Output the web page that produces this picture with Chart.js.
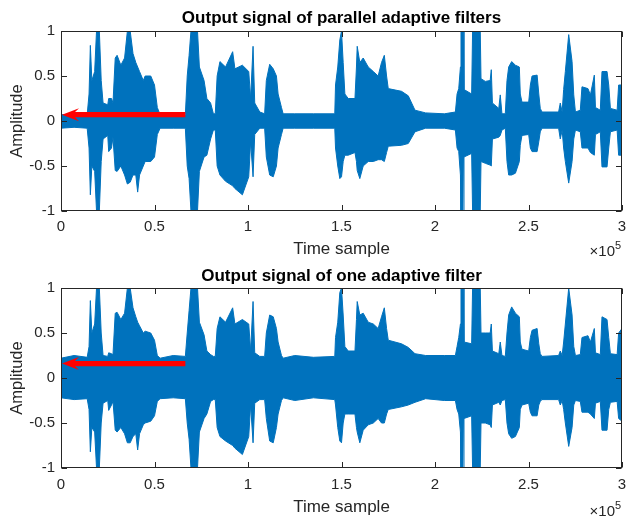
<!DOCTYPE html>
<html><head><meta charset="utf-8">
<script src="https://cdn.jsdelivr.net/npm/chart.js@4.4.1/dist/chart.umd.min.js"></script>
<style>
html,body{margin:0;padding:0;background:#fff;}
#wrap{position:relative;width:627px;height:517px;overflow:hidden;}
canvas{position:absolute;left:0;}
</style></head><body>
<div id="wrap">
<canvas id="c1" width="627" height="258" style="top:0px"></canvas>
<canvas id="c2" width="627" height="259" style="top:258px"></canvas>
</div>
<script>
// ---- data (envelope of the signal) ----
const timeSamples = [
0,7000,14000,15000,15700,16500,18000,19000,20500,21500,
22500,25000,25500,27000,27800,29000,30000,32000,34000,35500,
37000,38500,40000,41000,42000,44000,45000,48000,50000,51500,
53000,60000,66500,67500,68500,69500,73000,74000,76500,78000,
80000,81500,82500,83500,85000,88000,91800,93000,97000,100400,
101400,102700,103600,106300,108900,109800,111600,113500,115200,116100,
117900,118800,125000,135000,146400,146800,148000,149100,150000,150900,
151800,153600,157200,158000,158400,159800,161600,164300,167000,169600,
171400,172900,174100,175000,182100,185700,189300,195000,205000,210900,
211800,212700,213600,213900,215100,215500,219600,220100,224200,224600,
226900,229500,230100,230700,234100,234900,235800,237600,238500,239400,
241000,243000,245100,245600,246500,250100,251000,251900,254600,255500,
256300,257200,266100,267000,268000,268800,269700,271500,273300,274200,
275100,277700,278600,281800,283100,285200,285800,288400,289300,292000,
292900,293800,297400,298200,300000
];
const parallelUpper = [
.07,.07,.07,.3,.84,.45,.55,1,1,.45,
.2,.18,.25,.25,.2,.7,.73,.62,.7,1,
1,.75,.65,.6,.55,.45,.5,.5,.4,.15,
.07,.07,.07,.5,.73,1,1,.6,.45,.25,
.2,.08,.08,.5,.66,.6,.77,.58,.62,.55,
.25,.83,.2,.1,.08,.45,.63,.58,.5,.3,
.15,.08,.08,.08,.08,.4,.6,.9,1,.65,
.3,.25,.25,.6,.83,.65,.7,.6,.55,.5,
.65,.73,.5,.36,.33,.28,.12,.09,.08,.1,
.3,.36,.6,1,1,.35,.3,1,1,.47,
.44,.45,.57,.2,.14,.29,.08,.08,.45,.6,
.66,.62,.6,.3,.21,.21,.4,.5,.51,.3,
.14,.1,.1,.2,.1,.35,.55,.96,.66,.29,
.1,.12,.38,.36,.29,.51,.15,.12,.55,.55,
.4,.14,.12,.4,.4
];
const parallelLower = [
-.08,-.07,-.08,-.3,-.82,-.5,-.56,-1,-1,-.45,
-.2,-.16,-.34,-.3,-.18,-.55,-.56,-.5,-.6,-.7,
-.68,-.6,-.6,-.79,-.6,-.5,-.45,-.45,-.4,-.15,
-.08,-.08,-.08,-.5,-.64,-1,-1,-.56,-.4,-.38,
-.2,-.1,-.1,-.5,-.6,-.67,-.72,-.75,-.82,-.62,
-.23,-.62,-.15,-.08,-.08,-.4,-.6,-.62,-.5,-.3,
-.15,-.08,-.08,-.08,-.08,-.3,-.5,-.64,-.62,-.45,
-.38,-.38,-.35,-.45,-.55,-.64,-.5,-.45,-.45,-.43,
-.43,-.45,-.35,-.28,-.27,-.25,-.12,-.08,-.08,-.1,
-.3,-.34,-.6,-1,-1,-.4,-.36,-1,-1,-.45,
-.47,-.49,-.5,-.2,-.18,-.16,-.1,-.08,-.45,-.6,
-.6,-.58,-.45,-.27,-.16,-.15,-.3,-.34,-.34,-.23,
-.12,-.08,-.08,-.2,-.1,-.3,-.45,-.69,-.45,-.2,
-.1,-.12,-.3,-.3,-.35,-.38,-.15,-.12,-.51,-.51,
-.3,-.12,-.1,-.38,-.38
];
const singleUpper = [
.22,.25,.23,.35,.86,.5,.6,1,1,.5,
.25,.24,.28,.27,.26,.72,.73,.65,.72,1,
1,.78,.68,.62,.58,.5,.52,.5,.42,.25,
.22,.25,.24,.5,.75,1,1,.62,.48,.3,
.26,.24,.24,.55,.68,.62,.78,.6,.65,.6,
.3,.85,.28,.24,.24,.5,.7,.68,.55,.4,
.25,.22,.25,.23,.24,.45,.62,.95,1,.7,
.35,.3,.3,.65,.85,.7,.72,.62,.6,.55,
.68,.78,.55,.42,.38,.34,.27,.25,.25,.25,
.35,.45,.6,1,1,.4,.38,1,1,.5,
.5,.5,.6,.3,.27,.4,.25,.24,.5,.7,
.79,.72,.68,.4,.32,.3,.45,.53,.55,.38,
.27,.24,.25,.3,.25,.4,.6,1,.7,.35,
.25,.26,.45,.47,.4,.55,.28,.26,.68,.65,
.45,.27,.26,.5,.55
];
const singleLower = [
-.22,-.24,-.23,-.35,-.82,-.55,-.6,-1,-1,-.5,
-.28,-.25,-.36,-.3,-.26,-.58,-.6,-.55,-.62,-.72,
-.72,-.65,-.62,-.8,-.62,-.52,-.5,-.48,-.42,-.26,
-.23,-.22,-.23,-.5,-.68,-1,-1,-.6,-.45,-.4,
-.26,-.24,-.24,-.55,-.65,-.7,-.75,-.78,-.85,-.65,
-.3,-.72,-.28,-.24,-.24,-.45,-.7,-.72,-.55,-.4,
-.25,-.22,-.25,-.22,-.24,-.3,-.55,-.7,-.72,-.5,
-.4,-.4,-.4,-.55,-.6,-.72,-.58,-.52,-.5,-.45,
-.5,-.5,-.4,-.35,-.32,-.3,-.27,-.23,-.25,-.25,
-.35,-.4,-.6,-1,-1,-.45,-.42,-1,-1,-.5,
-.5,-.52,-.55,-.3,-.27,-.3,-.25,-.24,-.5,-.62,
-.67,-.65,-.55,-.35,-.3,-.28,-.38,-.42,-.42,-.3,
-.26,-.24,-.24,-.3,-.25,-.35,-.5,-.76,-.55,-.3,
-.25,-.26,-.38,-.38,-.4,-.45,-.28,-.26,-.58,-.58,
-.35,-.27,-.26,-.45,-.48
];
const xTickValues = [0,50000,100000,150000,200000,250000,300000];
const xTickLabels = ['0','0.5','1','1.5','2','2.5','3'];
const yTickValues = [-1,-0.5,0,0.5,1];
const yTickLabels = ['-1','-0.5','0','0.5','1'];
const arrowTail = 66500, arrowTip = 0;
const arrowLevelParallel = 0.07, arrowLevelSingle = 0.16;

const FONT = '"Liberation Sans", Arial, Helvetica, sans-serif';
const BLUE = '#0072BD';

const decoPlugin = {
  id: 'deco',
  afterDatasetsDraw(chart, args, o) {
    const {ctx, scales:{x, y}} = chart;
    const x0 = x.getPixelForValue(arrowTip), x1 = x.getPixelForValue(arrowTail);
    const yy = y.getPixelForValue(o.arrowLevel);
    ctx.save();
    ctx.fillStyle = '#FF0000';
    ctx.beginPath();
    ctx.moveTo(x0 + 1, yy);
    ctx.lineTo(x0 + 18, yy - 6.5);
    ctx.lineTo(x0 + 14, yy - 2.6);
    ctx.lineTo(x1, yy - 2.6);
    ctx.lineTo(x1, yy + 2.6);
    ctx.lineTo(x0 + 14, yy + 2.6);
    ctx.lineTo(x0 + 18, yy + 6.5);
    ctx.closePath();
    ctx.fill();
    ctx.restore();
  },
  afterDraw(chart, args, o) {
    const {ctx, chartArea:a, scales:{x, y}} = chart;
    ctx.save();
    ctx.strokeStyle = '#262626';
    ctx.lineWidth = 1;
    const L = Math.round(a.left) + 0.5, R = Math.round(a.right) - 0.5;
    const T = Math.round(a.top) + 0.5, B = Math.round(a.bottom) - 0.5;
    ctx.strokeRect(L, T, R - L, B - T);
    const tl = 5.5;
    ctx.beginPath();
    x.ticks.forEach(t => {
      const px = Math.round(x.getPixelForValue(t.value)) + 0.5;
      ctx.moveTo(px, B); ctx.lineTo(px, B - tl);
      ctx.moveTo(px, T); ctx.lineTo(px, T + tl);
    });
    y.ticks.forEach(t => {
      const py = Math.round(y.getPixelForValue(t.value)) + 0.5;
      ctx.moveTo(L, py); ctx.lineTo(L + tl, py);
      ctx.moveTo(R, py); ctx.lineTo(R - tl, py);
    });
    ctx.stroke();
    // title
    ctx.fillStyle = '#000';
    ctx.font = 'bold 17px ' + FONT;
    ctx.textAlign = 'center';
    ctx.textBaseline = 'middle';
    ctx.fillText(o.title, (a.left + a.right) / 2, 18.5);
    // exponent
    ctx.fillStyle = '#262626';
    ctx.font = '15px ' + FONT;
    ctx.textAlign = 'right';
    ctx.fillText('\u00d710', a.right - 7, o.expY);
    ctx.font = '11px ' + FONT;
    ctx.textAlign = 'left';
    ctx.fillText('5', a.right - 7, o.expY - 6);
    ctx.restore();
  }
};

function makeChart(id, upper, lower, c) {
  const mk = arr => timeSamples.map((t, i) => ({x: t, y: arr[i]}));
  return new Chart(document.getElementById(id), {
    type: 'line',
    data: {
      datasets: [
        {data: mk(upper), borderColor: BLUE, backgroundColor: BLUE, borderWidth: 1,
         pointRadius: 0, fill: '+1', tension: 0, borderJoinStyle: 'bevel'},
        {data: mk(lower), borderColor: BLUE, backgroundColor: BLUE, borderWidth: 1,
         pointRadius: 0, fill: false, tension: 0, borderJoinStyle: 'bevel'}
      ]
    },
    options: {
      responsive: false, animation: false, devicePixelRatio: 1,
      layout: {padding: {top: c.padTop, right: 5, left: 0, bottom: 0}},
      plugins: {
        legend: {display: false}, tooltip: {enabled: false}, title: {display: false},
        deco: {title: c.title, arrowLevel: c.arrowLevel, expY: c.expY}
      },
      scales: {
        x: {
          type: 'linear', min: 0, max: 300000,
          afterBuildTicks: s => { s.ticks = xTickValues.map(v => ({value: v})); },
          afterFit: s => { s.height = c.xHeight; s.paddingLeft = 0; s.paddingRight = 0; },
          ticks: {autoSkip: false, maxRotation: 0, padding: c.tickPad, color: '#262626',
                  font: {family: FONT, size: 15, lineHeight: 1.2},
                  callback: (v, i) => xTickLabels[i]},
          grid: {display: false, drawTicks: false},
          border: {display: false},
          title: {display: true, text: 'Time sample', color: '#262626',
                  font: {family: FONT, size: 17, lineHeight: 1},
                  padding: {top: 0, bottom: c.xTitlePad}}
        },
        y: {
          min: -1, max: 1,
          afterBuildTicks: s => { s.ticks = yTickValues.map(v => ({value: v})); },
          afterFit: s => { s.width = 61; s.paddingTop = 0; s.paddingBottom = 0; },
          ticks: {autoSkip: false, padding: 6, color: '#262626',
                  font: {family: FONT, size: 15, lineHeight: 1.2},
                  callback: (v, i) => yTickLabels[i]},
          grid: {display: false, drawTicks: false},
          border: {display: false},
          title: {display: true, text: 'Amplitude', color: '#262626',
                  font: {family: FONT, size: 16.5, lineHeight: 1},
                  padding: {top: 9, bottom: 0}}
        }
      }
    },
    plugins: [decoPlugin]
  });
}

makeChart('c1', parallelUpper, parallelLower,
  {title: 'Output signal of parallel adaptive filters', arrowLevel: arrowLevelParallel,
   padTop: 31, xHeight: 47, tickPad: 7, xTitlePad: 0.5, expY: 252});
makeChart('c2', singleUpper, singleLower,
  {title: 'Output signal of one adaptive filter', arrowLevel: arrowLevelSingle,
   padTop: 30, xHeight: 49, tickPad: 8, xTitlePad: 1.5, expY: 254});
</script>
</body></html>
